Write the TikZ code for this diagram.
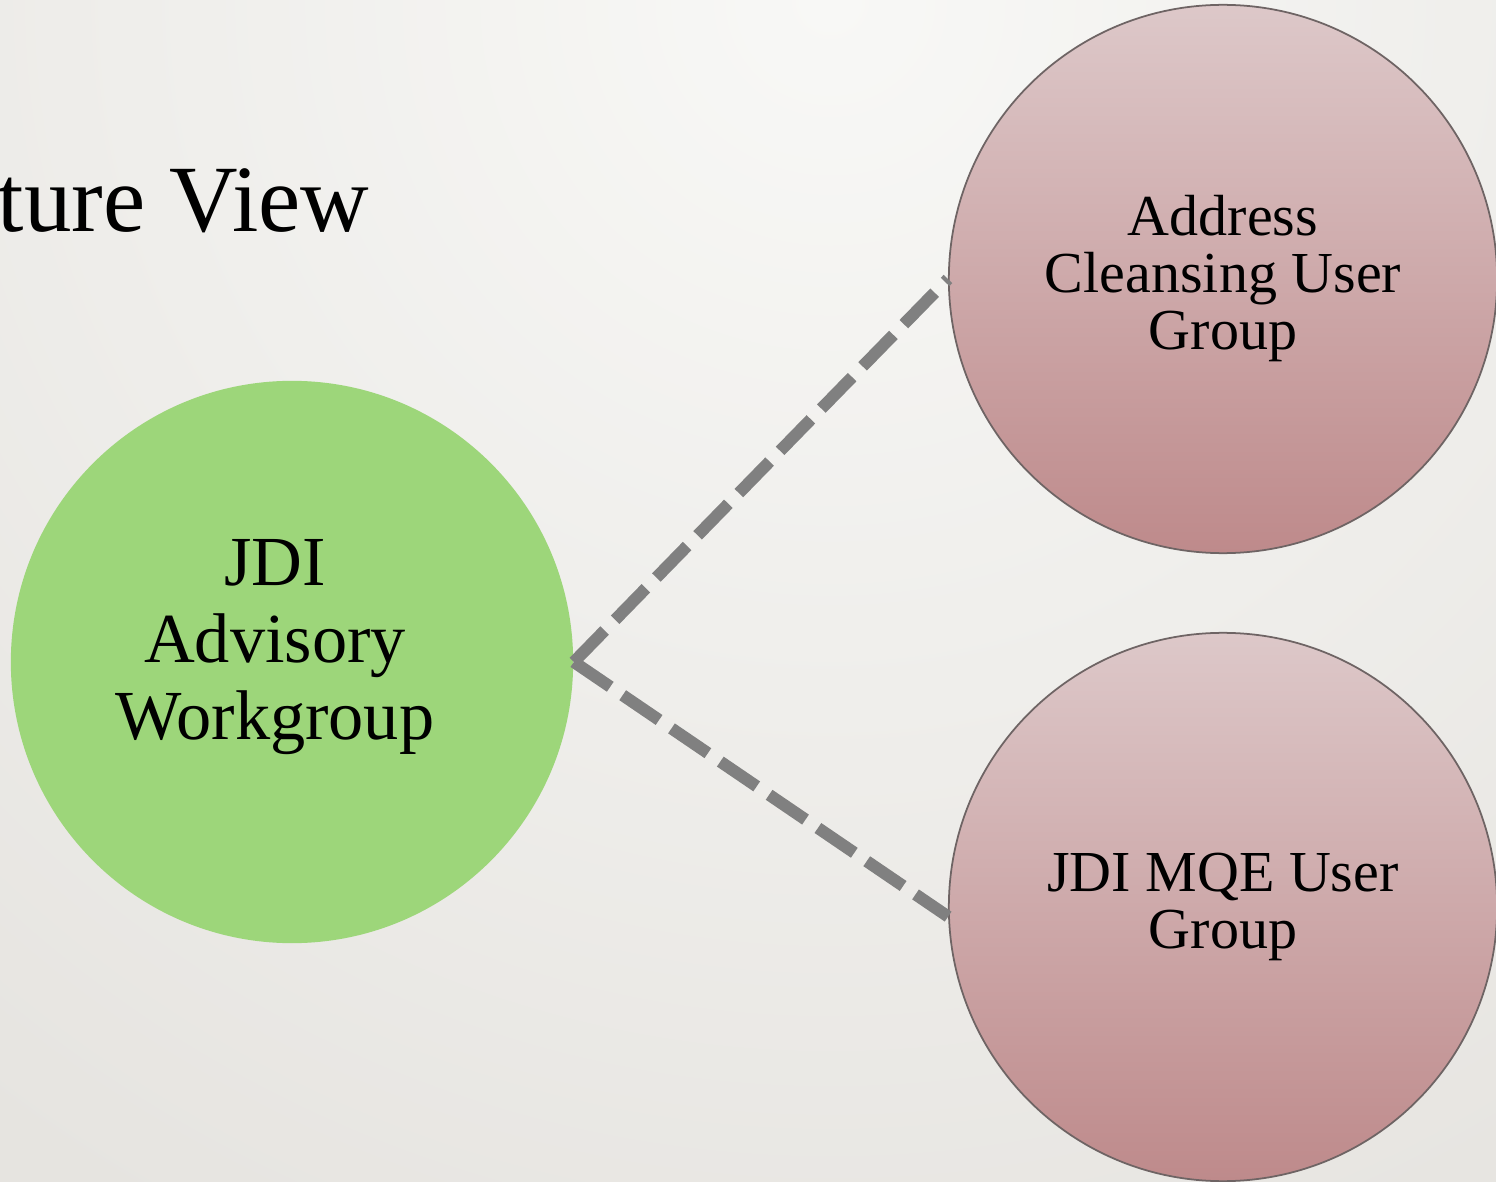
\documentclass[tikz,border=0pt]{standalone}
\usepackage{fontspec}
\setmainfont{Liberation Serif}
\usepackage{xcolor}
\definecolor{xgreen}{HTML}{9DD67A}
\definecolor{xpinktop}{HTML}{DDC8C9}
\definecolor{xpinkbot}{HTML}{BE8A8B}
\definecolor{xrim}{HTML}{6E6464}
\definecolor{xdash}{HTML}{808080}
\definecolor{xbgin}{HTML}{F8F8F6}
\definecolor{xbgout}{HTML}{E6E4E0}
\usepackage{tikz}
\usetikzlibrary{positioning}
\tikzset{
  %% Styles %%
  bubble/.style = {circle, inner sep=0, minimum size=5.48cm, align=center},
  leadbubble/.style = {bubble, minimum size=5.62cm, fill=xgreen},
  userbubble/.style = {
    bubble, draw=xrim, line width=0.5pt,
    top color=xpinktop, bottom color=xpinkbot,
    font=\fontsize{16.5}{16.2}\selectfont,
  },
  link/.style = {line width=0.12cm, draw=xdash, dash pattern=on 0.44cm off 0.15cm},
}

\begin{document}
\begin{tikzpicture}[x=0.01cm, y=-0.01cm]
            \useasboundingbox (0,0) rectangle (1496,1182);
            % Background
            \begin{scope}
                \clip (0,0) rectangle (1496,1182);
                \fill[xbgout] (0,0) rectangle (1496,1182);
                \shade[inner color=xbgin, outer color=xbgout] (830,0) circle (14cm);
            \end{scope}
            \node[anchor=base east, inner sep=0, font=\fontsize{27}{32}\selectfont] (title) at (370,232) {ture View};
            % Groups
            \node[leadbubble, label={[font=\fontsize{20}{22}\selectfont, align=center, xshift=-0.17cm, yshift=0.15cm]center:JDI\\Advisory\\Workgroup}] (advisory) at (292,662) {};
            \node[userbubble] (cleansing) at (1223,279) {Address\\Cleansing User\\Group};
            \node[userbubble] (mqe) at (1223,907) {JDI MQE User\\Group};
            \draw[link] (advisory.east) -- (cleansing.west);
            \draw[link] (advisory.east) -- (mqe.182);
        \end{tikzpicture}
\end{document}
